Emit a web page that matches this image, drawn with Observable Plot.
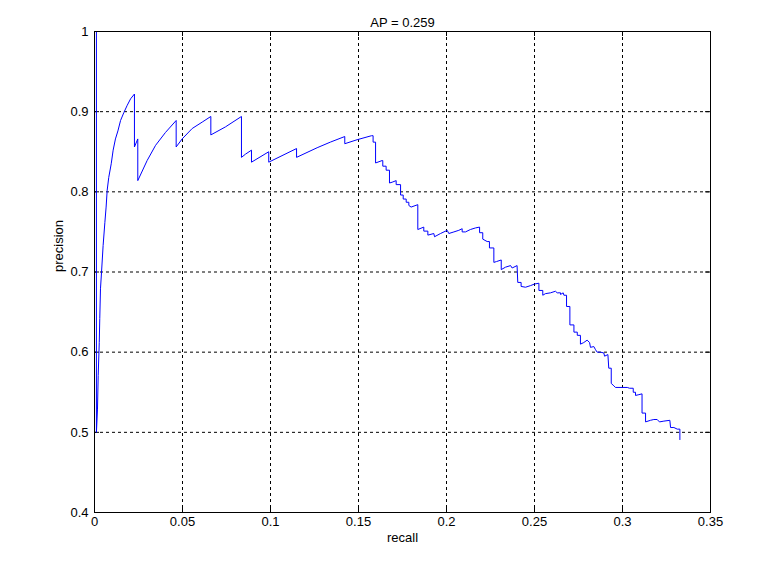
<!DOCTYPE html>
<html>
<head>
<meta charset="utf-8">
<script src="https://cdn.jsdelivr.net/npm/d3@7"></script>
<script src="https://cdn.jsdelivr.net/npm/@observablehq/plot@0.6"></script>
<style>
  html, body { margin: 0; padding: 0; background: #ffffff; }
</style>
</head>
<body>
<div id="chart"></div>
<script>
const titleText = "AP = 0.259";
const xLabel = "recall";
const yLabel = "precision";
const xTicks = [0, 0.05, 0.1, 0.15, 0.2, 0.25, 0.3, 0.35];
const yTicks = [0.4, 0.5, 0.6, 0.7, 0.8, 0.9, 1];

const recall = [
  0.0011, 0.0011, 0.0017, 0.0021, 0.0027, 0.0030, 0.0034, 0.0040, 0.0049, 0.0059,
  0.0066, 0.0072, 0.0081, 0.0095, 0.0106, 0.0119, 0.0133, 0.0148, 0.0167, 0.0186,
  0.0205, 0.0227, 0.0227, 0.0246, 0.0246,
  0.0299, 0.0347, 0.0403, 0.0464, 0.0464, 0.0498,
  0.0555, 0.0612, 0.0661, 0.0661, 0.0744, 0.0835, 0.0835, 0.0858, 0.0892, 0.0892,
  0.0990, 0.0990, 0.1148, 0.1148, 0.1265, 0.1340, 0.1422, 0.1422, 0.1492, 0.1574,
  0.1583, 0.1583, 0.1597, 0.1597, 0.1634, 0.1638, 0.1638, 0.1657, 0.1657, 0.1676,
  0.1676, 0.1691, 0.1714, 0.1714, 0.1739, 0.1739, 0.1754, 0.1754, 0.1771, 0.1771,
  0.1786, 0.1786, 0.1799, 0.1837, 0.1837, 0.1871, 0.1871, 0.1894, 0.1894, 0.1928,
  0.1932, 0.1966, 0.2004, 0.2013, 0.2042, 0.2070, 0.2089, 0.2089, 0.2108, 0.2136,
  0.2165, 0.2188, 0.2188, 0.2206, 0.2206, 0.2231, 0.2244, 0.2244, 0.2269, 0.2269,
  0.2284, 0.2311, 0.2311, 0.2335, 0.2364, 0.2373, 0.2401, 0.2405, 0.2424, 0.2424,
  0.2449, 0.2477, 0.2500, 0.2525, 0.2525, 0.2547, 0.2547, 0.2562, 0.2591, 0.2619,
  0.2629, 0.2648, 0.2648, 0.2663, 0.2667, 0.2682, 0.2682, 0.2701, 0.2701, 0.2724,
  0.2724, 0.2743, 0.2743, 0.2761, 0.2761, 0.2780, 0.2799, 0.2813, 0.2818, 0.2837,
  0.2847, 0.2856, 0.2875, 0.2894, 0.2898, 0.2917, 0.2922, 0.2936, 0.2936, 0.2951,
  0.2960, 0.3027, 0.3040, 0.3061, 0.3061, 0.3074, 0.3074, 0.3093, 0.3111, 0.3111,
  0.3131, 0.3131, 0.3159, 0.3178, 0.3197, 0.3210, 0.3235, 0.3269, 0.3273, 0.3292,
  0.3311, 0.3326, 0.3326
];
const precision = [
  1.000, 0.500, 0.529, 0.571, 0.612, 0.642, 0.679, 0.700, 0.733, 0.762,
  0.781, 0.802, 0.818, 0.835, 0.852, 0.866, 0.876, 0.889, 0.899, 0.908,
  0.916, 0.922, 0.856, 0.866, 0.814,
  0.839, 0.858, 0.874, 0.889, 0.856, 0.866,
  0.879, 0.887, 0.894, 0.871, 0.881, 0.894, 0.843, 0.847, 0.852, 0.837,
  0.850, 0.837, 0.854, 0.843, 0.855, 0.862, 0.869, 0.860, 0.865, 0.870,
  0.870, 0.862, 0.862, 0.836, 0.839, 0.839, 0.832, 0.832, 0.827, 0.827,
  0.811, 0.812, 0.814, 0.809, 0.809, 0.796, 0.796, 0.791, 0.791, 0.787,
  0.787, 0.783, 0.781, 0.784, 0.753, 0.756, 0.751, 0.751, 0.746, 0.748,
  0.744, 0.748, 0.752, 0.748, 0.750, 0.752, 0.754, 0.750, 0.750, 0.753,
  0.755, 0.756, 0.749, 0.749, 0.741, 0.738, 0.738, 0.730, 0.730, 0.712,
  0.713, 0.715, 0.703, 0.706, 0.708, 0.705, 0.708, 0.687, 0.687, 0.682,
  0.681, 0.683, 0.685, 0.686, 0.677, 0.677, 0.671, 0.673, 0.674, 0.676,
  0.674, 0.674, 0.672, 0.674, 0.671, 0.671, 0.657, 0.657, 0.634, 0.634,
  0.625, 0.625, 0.621, 0.621, 0.610, 0.612, 0.615, 0.612, 0.606, 0.607,
  0.603, 0.600, 0.600, 0.599, 0.595, 0.597, 0.580, 0.580, 0.561, 0.558,
  0.556, 0.556, 0.555, 0.555, 0.550, 0.550, 0.546, 0.547, 0.548, 0.524,
  0.524, 0.513, 0.515, 0.516, 0.516, 0.513, 0.514, 0.515, 0.506, 0.506,
  0.504, 0.504, 0.491
];

const data = recall.map((r, i) => ({recall: r, precision: precision[i]}));
const fmt = d => String(+d.toFixed(2));
const font = "'Liberation Sans', Arial, Helvetica, sans-serif";

const W = 776, H = 565, mL = 94, mR = 66, mT = 31, mB = 53;
const fw = W - mL - mR, fh = H - mT - mB, tick = 5;

const chart = Plot.plot({
  width: W,
  height: H,
  marginLeft: mL,
  marginRight: mR,
  marginTop: mT,
  marginBottom: mB,
  style: {fontFamily: font, fontSize: "13px", background: "#ffffff", color: "#000000", overflow: "visible"},
  x: {domain: [xTicks[0], xTicks[xTicks.length - 1]]},
  y: {domain: [yTicks[0], yTicks[yTicks.length - 1]]},
  marks: [
    Plot.ruleX(xTicks.slice(1, -1), {x: d => d, stroke: "#000000", strokeWidth: 1, strokeDasharray: "3,3"}),
    Plot.ruleY(yTicks.slice(1, -1), {y: d => d, stroke: "#000000", strokeWidth: 1, strokeDasharray: "3,3"}),
    // inward tick marks on all four sides
    Plot.ruleX(xTicks, {x: d => d, stroke: "#000000", insetTop: fh - tick}),
    Plot.ruleX(xTicks, {x: d => d, stroke: "#000000", insetBottom: fh - tick}),
    Plot.ruleY(yTicks, {y: d => d, stroke: "#000000", insetRight: fw - tick}),
    Plot.ruleY(yTicks, {y: d => d, stroke: "#000000", insetLeft: fw - tick}),
    Plot.line(data, {x: "recall", y: "precision", stroke: "#0000ff", strokeWidth: 1}),
    Plot.frame({stroke: "#000000", strokeWidth: 1}),
    Plot.axisX(xTicks, {anchor: "bottom", tickSize: 0, tickPadding: 4, tickFormat: fmt, label: null, fontSize: 13}),
    Plot.axisY(yTicks, {anchor: "left", tickSize: 0, tickPadding: 6, tickFormat: fmt, label: null, fontSize: 13}),
    Plot.text([titleText], {text: d => d, frameAnchor: "top", dy: -14, fontSize: 13, fill: "#000000"}),
    Plot.text([xLabel], {text: d => d, frameAnchor: "bottom", dy: 29, fontSize: 13, fill: "#000000"}),
    Plot.text([yLabel], {text: d => d, frameAnchor: "left", dx: -36, rotate: -90, fontSize: 13, fill: "#000000"})
  ]
});
document.getElementById("chart").appendChild(chart);
</script>
</body>
</html>
